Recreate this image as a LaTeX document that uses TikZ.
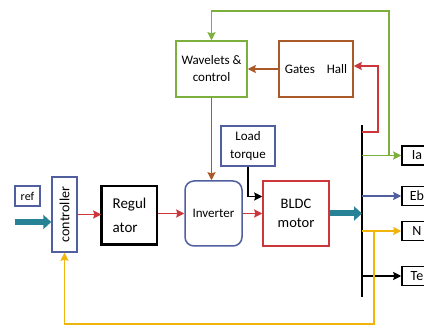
\documentclass[tikz,border=0pt]{standalone}
\usepackage{fontspec}
\setmainfont{Carlito}
\usetikzlibrary{arrows.meta}
\definecolor{grn}{RGB}{125,175,60}
\definecolor{brn}{RGB}{170,90,40}
\definecolor{rd}{RGB}{205,55,60}
\definecolor{blu}{RGB}{80,95,160}
\definecolor{tl}{RGB}{40,130,150}
\definecolor{yel}{RGB}{240,180,10}
\tikzset{
  blk/.style={draw, line width=1.5pt, align=center, inner sep=0pt, font=\fontsize{13}{17}\selectfont},
  arr/.style={line width=1.5pt, -{Stealth[length=8pt,width=8pt,inset=1pt]}},
  fat/.style={tl, line width=6pt, -{Triangle[length=8pt,width=14pt]}},
  outbox/.style={blk, black, minimum width=30pt, minimum height=19pt, font=\fontsize{14}{15}\selectfont}
}
\begin{document}
\begin{tikzpicture}[x=1pt,y=-1pt]
\clip (0,0) rectangle (424,326);
\fill[white] (0,0) rectangle (424,326);

\node[blk, grn, text=black, minimum width=71pt, minimum height=56pt] (wav) at (211.5,69) {Wavelets \&\\control};
\node[blk, brn, text=black, minimum width=74pt, minimum height=56pt] (gates) at (316,69) {Gates\hspace{12pt}Hall};
\node[blk, blu, text=black, minimum width=54pt, minimum height=40pt, font=\fontsize{13}{18}\selectfont] (load) at (248,146) {Load\\torque};
\node[blk, blu, text=black, rounded corners=9pt, minimum width=57pt, minimum height=65pt] (inv) at (213.5,213.5) {Inverter};
\node[blk, rd, text=black, minimum width=66pt, minimum height=65pt, font=\fontsize{14.5}{19}\selectfont] (bldc) at (296,213.5) {BLDC\\motor};
\node[blk, black, align=left, minimum width=55pt, minimum height=58pt, font=\fontsize{15}{24}\selectfont] (reg) at (129.5,215) {Regul\\ator};
\draw[line width=2.6pt] (reg.north west) -- (reg.south west) -- (reg.south east);
\node[blk, blu, text=black, minimum width=25pt, minimum height=75pt] (ctrl) at (64.5,214.5) {};
\node[rotate=90, font=\fontsize{14}{15}\selectfont] (ctrltxt) at (ctrl) {controller};
\node[blk, blu, text=black, minimum width=25pt, minimum height=20pt, font=\fontsize{12}{13}\selectfont] (ref) at (27.5,196) {ref};

\node[outbox] (ia) at (417,155.5) {Ia};
\node[outbox] (eb) at (417,196) {Eb};
\node[outbox] (nn) at (417,231) {N};
\node[outbox] (te) at (417,276) {Te};

\coordinate (bus1) at (362,125);
\coordinate (bus2) at (362,297);
\draw[line width=2pt] (bus1) -- (bus2);

\draw[grn,arr] (bus1 |- ia.west) -- (ia.west);
\coordinate (gtap) at (389,155.5);
\draw[grn,arr] (gtap) -- ++(0,-144.5) -| (wav.north);
\coordinate (rtap) at (362,132);
\draw[rd,arr] (rtap) -- ++(16,0) |- ([yshift=3pt]gates.east);
\draw[brn,arr] (gates.west) -- (wav.east);
\draw[brn,arr] (wav.south) -- (wav.south |- inv.north);
\draw[arr] (load.south) |- ([yshift=17pt]bldc.west);

\coordinate (in) at (15,222);
\draw[fat] (in) -- (in -| ctrl.west);
\draw[rd,arr] (ctrl.east) -- (ctrl.east -| reg.west);
\draw[rd,arr] (reg.east |- inv.west) -- (inv.west);
\draw[rd,arr] (inv.east) -- (bldc.west);
\draw[fat] (bldc.east) -- (bldc.east -| bus1);

\draw[blu,arr] (bus1 |- eb.west) -- (eb.west);
\draw[yel,arr] (bus1 |- nn.west) -- (nn.west);
\draw[arr] (bus1 |- te.west) -- (te.west);
\coordinate (ytap) at (374,231);
\draw[yel,arr] (ytap) -- ++(0,93) -| (ctrl.south);
\end{tikzpicture}
\end{document}
